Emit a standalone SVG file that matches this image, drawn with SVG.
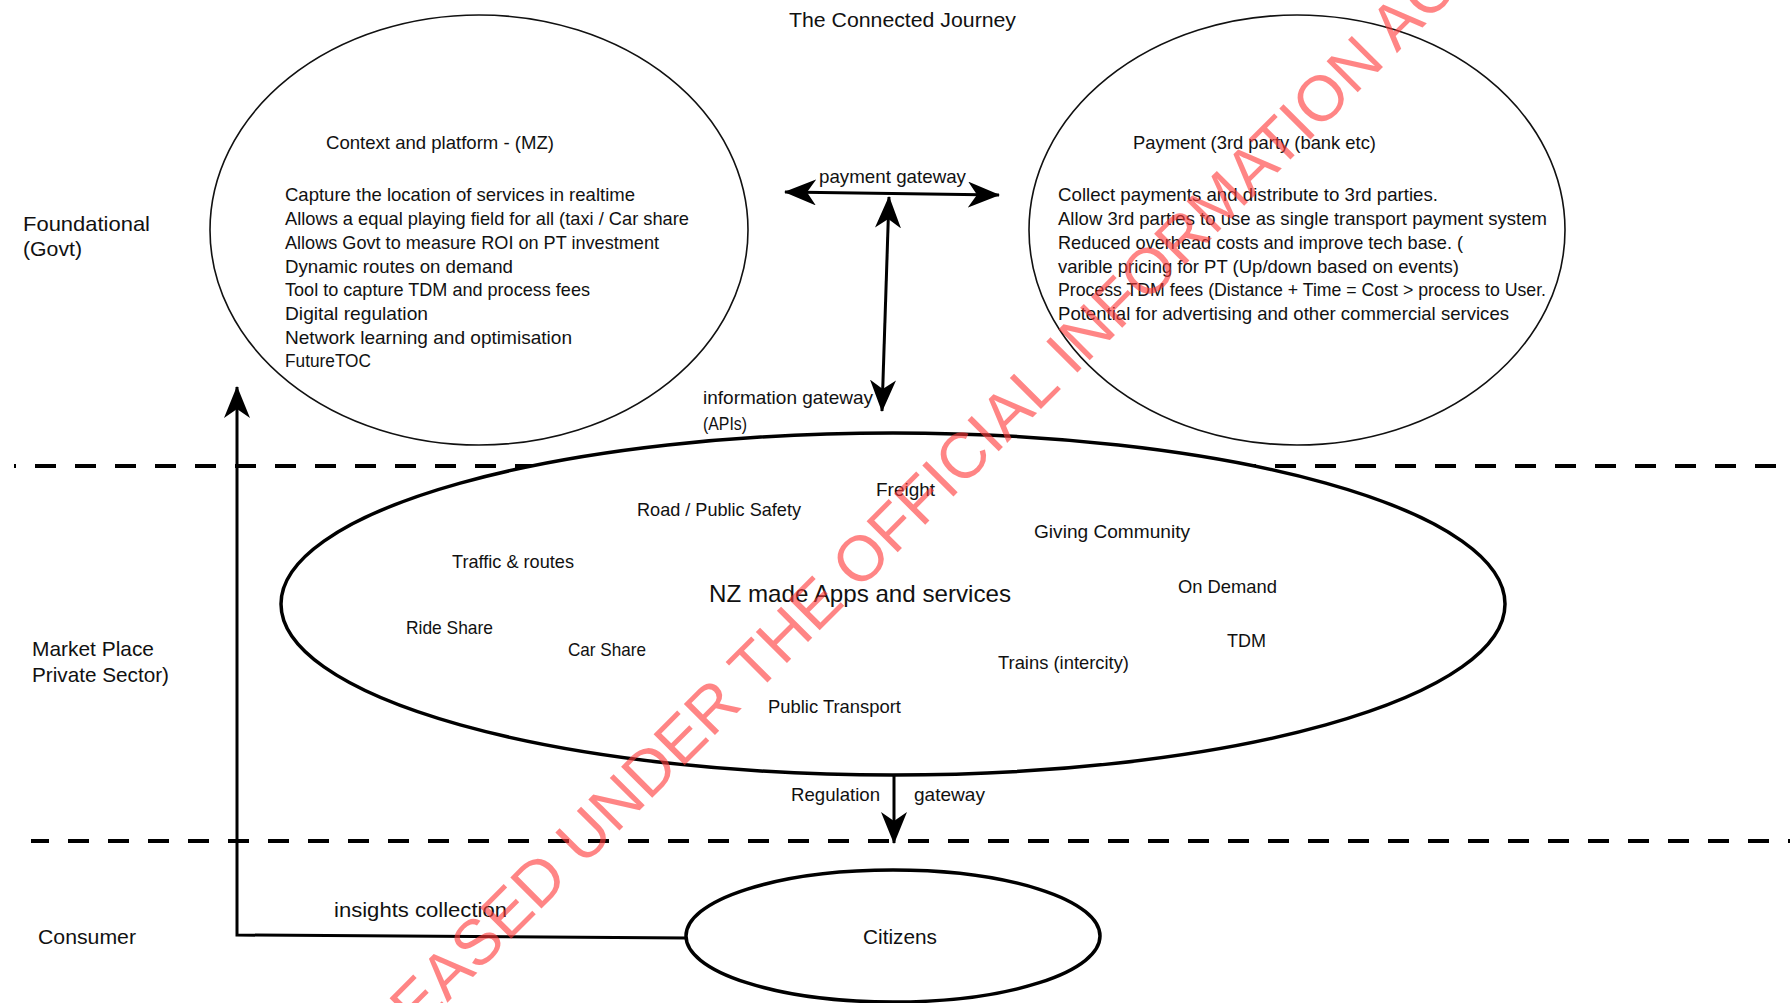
<svg xmlns="http://www.w3.org/2000/svg" width="1790" height="1003" viewBox="0 0 1790 1003">
  <style>
    text { font-family: "Liberation Sans", Arial, sans-serif; fill: #111; }
    .t { font-size: 18.5px; }
    .lbl { font-size: 21px; }
    .big { font-size: 24px; }
    .thin { fill: #fff; stroke: #111; stroke-width: 1.6; }
    .thick { fill: #fff; stroke: #000; stroke-width: 3.5; }
    .dash { stroke: #000; stroke-width: 4; stroke-dasharray: 21 19; fill: none; }
    .conn { stroke: #000; stroke-width: 3; fill: none; }
    .wm { font-family: "Liberation Sans", Arial, sans-serif; font-size: 64px; fill: #ff3a3a; fill-opacity: 0.62; }
  </style>
  <defs>
    <marker id="head" markerUnits="userSpaceOnUse" viewBox="0 0 32 26" markerWidth="32" markerHeight="26" refX="31" refY="13" orient="auto-start-reverse">
      <path d="M0,0 L32,13 L0,26 L9,13 Z" fill="#000"/>
    </marker>
  </defs>

  <rect width="1790" height="1003" fill="#fff"/>

  <g id="title">
    <text x="789" y="27" style="font-size:20px" textLength="227" lengthAdjust="spacingAndGlyphs">The Connected Journey</text>
  </g>

  <g id="lanes">
    <line class="dash" x1="14" y1="466" x2="1790" y2="466" stroke-dashoffset="19"/>
    <line class="dash" x1="31" y1="841" x2="1790" y2="841" stroke-dashoffset="3"/>
    <text class="lbl" x="23" y="231" textLength="127" lengthAdjust="spacingAndGlyphs">Foundational</text>
    <text class="lbl" x="23" y="256" textLength="59" lengthAdjust="spacingAndGlyphs">(Govt)</text>
    <text class="lbl" x="32" y="656" textLength="122" lengthAdjust="spacingAndGlyphs">Market Place</text>
    <text class="lbl" x="32" y="682" textLength="137" lengthAdjust="spacingAndGlyphs">Private Sector)</text>
    <text class="lbl" x="38" y="944" textLength="98" lengthAdjust="spacingAndGlyphs">Consumer</text>
  </g>

  <g id="context-platform">
    <ellipse class="thin" cx="479" cy="230" rx="269" ry="215"/>
    <text class="t" x="326" y="149" textLength="228" lengthAdjust="spacingAndGlyphs">Context and platform - (MZ)</text>
    <text class="t" x="285" y="201" textLength="350" lengthAdjust="spacingAndGlyphs">Capture the location of services in realtime</text>
    <text class="t" x="285" y="225" textLength="404" lengthAdjust="spacingAndGlyphs">Allows a equal playing field for all (taxi / Car share</text>
    <text class="t" x="285" y="249" textLength="374" lengthAdjust="spacingAndGlyphs">Allows Govt to measure ROI on PT investment</text>
    <text class="t" x="285" y="273" textLength="228" lengthAdjust="spacingAndGlyphs">Dynamic routes on demand</text>
    <text class="t" x="285" y="296" textLength="305" lengthAdjust="spacingAndGlyphs">Tool to capture TDM and process fees</text>
    <text class="t" x="285" y="320" textLength="143" lengthAdjust="spacingAndGlyphs">Digital regulation</text>
    <text class="t" x="285" y="344" textLength="287" lengthAdjust="spacingAndGlyphs">Network learning and optimisation</text>
    <text class="t" x="285" y="367" textLength="86" lengthAdjust="spacingAndGlyphs">FutureTOC</text>
  </g>

  <g id="payment">
    <ellipse class="thin" cx="1297" cy="230" rx="268" ry="215"/>
    <text class="t" x="1133" y="149" textLength="243" lengthAdjust="spacingAndGlyphs">Payment (3rd party (bank etc)</text>
    <text class="t" x="1058" y="201" textLength="380" lengthAdjust="spacingAndGlyphs">Collect payments and distribute to 3rd parties.</text>
    <text class="t" x="1058" y="225" textLength="489" lengthAdjust="spacingAndGlyphs">Allow 3rd parties to use as single transport payment system</text>
    <text class="t" x="1058" y="249" textLength="405" lengthAdjust="spacingAndGlyphs">Reduced overhead costs and improve tech base. (</text>
    <text class="t" x="1058" y="273" textLength="401" lengthAdjust="spacingAndGlyphs">varible pricing for PT (Up/down based on events)</text>
    <text class="t" x="1058" y="296" textLength="488" lengthAdjust="spacingAndGlyphs">Process TDM fees (Distance + Time = Cost &gt; process to User.</text>
    <text class="t" x="1058" y="320" textLength="451" lengthAdjust="spacingAndGlyphs">Potential for advertising and other commercial services</text>
  </g>

  <g id="apps-services">
    <ellipse class="thick" cx="893" cy="604" rx="612" ry="171"/>
    <text class="big" x="709" y="602" textLength="302" lengthAdjust="spacingAndGlyphs">NZ made Apps and services</text>
    <text class="t" x="876" y="496" textLength="59" lengthAdjust="spacingAndGlyphs">Freight</text>
    <text class="t" x="637" y="516" textLength="164" lengthAdjust="spacingAndGlyphs">Road / Public Safety</text>
    <text class="t" x="1034" y="538" textLength="156" lengthAdjust="spacingAndGlyphs">Giving Community</text>
    <text class="t" x="452" y="568" textLength="122" lengthAdjust="spacingAndGlyphs">Traffic &amp; routes</text>
    <text class="t" x="1178" y="593" textLength="99" lengthAdjust="spacingAndGlyphs">On Demand</text>
    <text class="t" x="406" y="634" textLength="87" lengthAdjust="spacingAndGlyphs">Ride Share</text>
    <text class="t" x="568" y="656" textLength="78" lengthAdjust="spacingAndGlyphs">Car Share</text>
    <text class="t" x="1227" y="647" textLength="39" lengthAdjust="spacingAndGlyphs">TDM</text>
    <text class="t" x="998" y="669" textLength="131" lengthAdjust="spacingAndGlyphs">Trains (intercity)</text>
    <text class="t" x="768" y="713" textLength="133" lengthAdjust="spacingAndGlyphs">Public Transport</text>
  </g>

  <g id="citizens">
    <ellipse class="thick" cx="893" cy="936" rx="207" ry="66"/>
    <text class="lbl" x="863" y="944" textLength="74" lengthAdjust="spacingAndGlyphs">Citizens</text>
  </g>

  <g id="connectors">
    <line class="conn" x1="785" y1="192" x2="999" y2="195" marker-start="url(#head)" marker-end="url(#head)"/>
    <line class="conn" x1="889" y1="197" x2="882" y2="411" marker-start="url(#head)" marker-end="url(#head)"/>
    <line class="conn" x1="894" y1="775" x2="894" y2="843" marker-end="url(#head)"/>
    <polyline class="conn" points="687,938 237,935 237,387" marker-end="url(#head)"/>
    <text class="t" x="819" y="183" textLength="147" lengthAdjust="spacingAndGlyphs">payment gateway</text>
    <text class="t" x="703" y="404" textLength="170" lengthAdjust="spacingAndGlyphs">information gateway</text>
    <text class="t" x="703" y="430" textLength="44" lengthAdjust="spacingAndGlyphs">(APIs)</text>
    <text class="t" x="791" y="801" textLength="89" lengthAdjust="spacingAndGlyphs">Regulation</text>
    <text class="t" x="914" y="801" textLength="71" lengthAdjust="spacingAndGlyphs">gateway</text>
    <text class="lbl" x="334" y="917" textLength="173" lengthAdjust="spacingAndGlyphs">insights collection</text>
  </g>

  <g id="watermark">
    <text class="wm" x="329" y="1121" transform="rotate(-45 329 1121)">RELEASED UNDER THE OFFICIAL INFORMATION ACT</text>
  </g>
</svg>
